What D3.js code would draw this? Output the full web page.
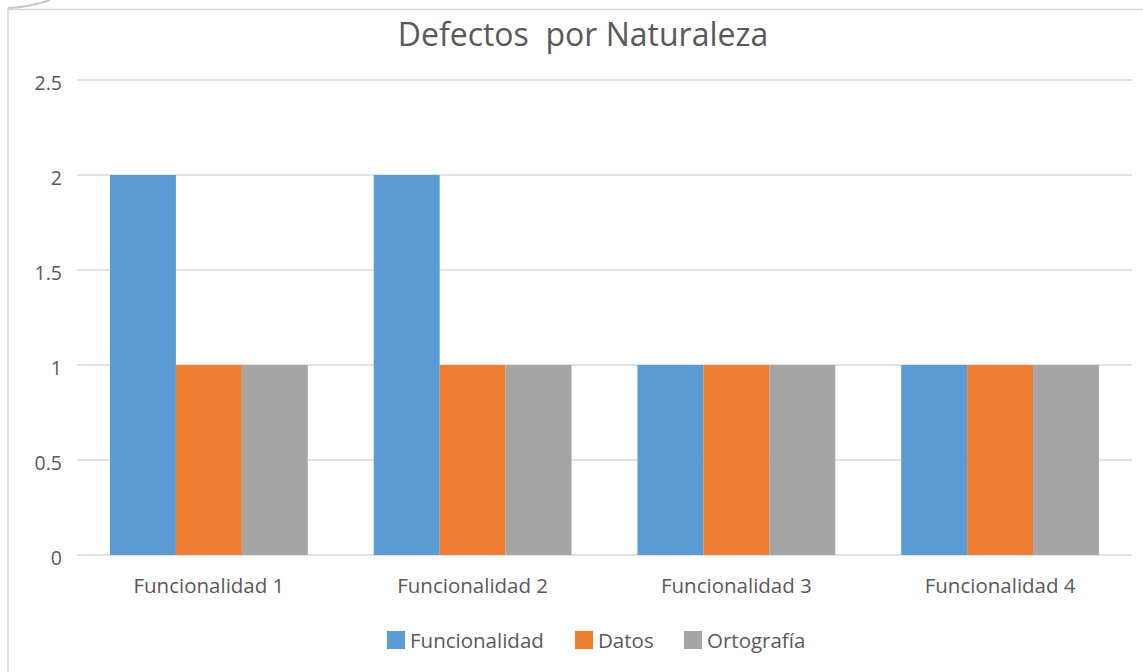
<!DOCTYPE html>
<html><head><meta charset="utf-8">
<script src="https://cdn.jsdelivr.net/npm/d3@7"></script>
<style>body{margin:0;background:#fff}svg{display:block}text{font-family:"Open Sans","Noto Sans",sans-serif;fill:#595959;white-space:pre}</style>
</head><body><svg id="c" width="1143" height="672"></svg>
<script>
const title = "Defectos  por Naturaleza";
const categories = ["Funcionalidad 1","Funcionalidad 2","Funcionalidad 3","Funcionalidad 4"];
const seriesNames = ["Funcionalidad","Datos","Ortografía"];
const funcionalidad = [2,2,1,1];
const datos = [1,1,1,1];
const ortografia = [1,1,1,1];
const yTicks = [0,0.5,1,1.5,2,2.5];
const colors = ["#5b9bd5","#ed7d31","#a5a5a5"];
const values = [funcionalidad, datos, ortografia];

(function(){
const svg = d3.select("#c");
// chart frame
svg.append("path").attr("d","M8,672 L8,9.5 L1143,9.5").attr("fill","none").attr("stroke","#d9d9d9").attr("stroke-width",1.5);
svg.append("path").attr("d","M8,8 Q30,7 50,0").attr("fill","none").attr("stroke","#c8c8c8").attr("stroke-width",2);

const pl=77, pr=1132, pt=80, pb=555;
const x = d3.scaleBand().domain(categories).range([pl,pr]).paddingInner(0.25).paddingOuter(0.125);
const xs = d3.scaleBand().domain(seriesNames).range([0,x.bandwidth()]);
const y = d3.scaleLinear().domain([0,2.5]).range([pb,pt]);

// gridlines
svg.append("g").selectAll("line").data(yTicks).join("line")
  .attr("x1",pl).attr("x2",pr).attr("y1",d=>y(d)).attr("y2",d=>y(d))
  .attr("stroke","#d9d9d9").attr("stroke-width",1.5);

// y axis labels
const yAxis = d3.axisLeft(y).tickValues(yTicks).tickSize(0).tickPadding(0).tickFormat(d=>String(d));
const gy = svg.append("g").attr("transform",`translate(62,3)`).call(yAxis);
gy.select(".domain").remove();
gy.attr("font-size",null).attr("font-family",null);
gy.selectAll("text").style("font-size","19.5px").style("fill","#595959").style("font-family",'"Open Sans",sans-serif');

// bars
seriesNames.forEach((s,i)=>{
  svg.append("g").selectAll("rect").data(categories).join("rect")
    .attr("x",c=>x(c)+xs(s)).attr("width",xs.bandwidth())
    .attr("y",(c,j)=>y(values[i][j])).attr("height",(c,j)=>y(0)-y(values[i][j]))
    .attr("fill",colors[i]);
});

// x axis labels
const xAxis = d3.axisBottom(x).tickSize(0).tickPadding(0);
const gx = svg.append("g").attr("transform",`translate(0,578)`).call(xAxis);
gx.select(".domain").remove();
gx.attr("font-size",null).attr("font-family",null);
gx.selectAll("text").style("font-size","20.5px").style("fill","#595959").style("font-family",'"Open Sans",sans-serif');

// title
svg.append("text").attr("x",583).attr("y",46).attr("text-anchor","middle").style("font-size","32px").text(title);

// legend
const legX = [387,575,684];
const lg = svg.append("g");
seriesNames.forEach((s,i)=>{
  lg.append("rect").attr("x",legX[i]).attr("y",631).attr("width",18).attr("height",18).attr("fill",colors[i]);
  lg.append("text").attr("x",legX[i]+23).attr("y",648).style("font-size","20.5px").text(s);
});
})();
</script></body></html>
